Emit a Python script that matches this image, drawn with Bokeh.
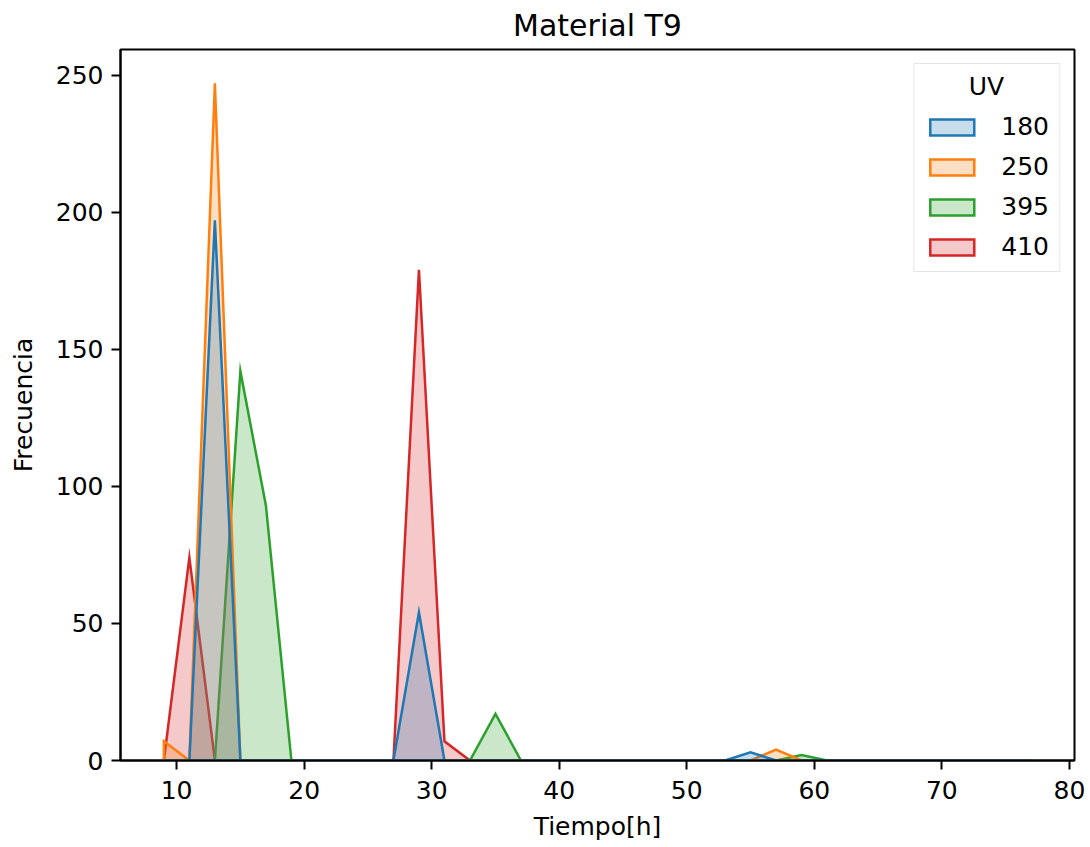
from bokeh.plotting import figure
from bokeh.models import Range1d, Legend, LegendItem, Label, FixedTicker
from bokeh.embed import file_html
from bokeh.resources import INLINE

# Bin centers (Tiempo[h]) and histogram counts per UV level
centers = [9, 11, 13, 15, 17, 19, 21, 23, 25, 27, 29, 31, 33, 35, 37, 39, 41, 43,
           45, 47, 49, 51, 53, 55, 57, 59, 61, 63, 65, 67, 69, 71, 73, 75, 77]
uv_180 = [0, 0, 197, 0, 0, 0, 0, 0, 0, 0, 54, 0, 0, 0, 0, 0, 0, 0,
          0, 0, 0, 0, 0, 3, 0, 0, 0, 0, 0, 0, 0, 0, 0, 0, 0]
uv_250 = [7, 0, 247, 0, 0, 0, 0, 0, 0, 0, 0, 0, 0, 0, 0, 0, 0, 0,
          0, 0, 0, 0, 0, 0, 4, 0, 0, 0, 0, 0, 0, 0, 0, 0, 0]
uv_395 = [0, 0, 0, 142, 93, 0, 0, 0, 0, 0, 0, 0, 0, 17, 0, 0, 0, 0,
          0, 0, 0, 0, 0, 0, 0, 2, 0, 0, 0, 0, 0, 0, 0, 0, 0]
uv_410 = [0, 74, 0, 0, 0, 0, 0, 0, 0, 0, 179, 7, 0, 0, 0, 0, 0, 0,
          0, 0, 0, 0, 0, 0, 0, 0, 0, 0, 0, 0, 0, 0, 0, 0, 0]
labels = ["180", "250", "395", "410"]
colors = ["#1f77b4", "#ff7f0e", "#2ca02c", "#d62728"]
series = [uv_180, uv_250, uv_395, uv_410]
x_ticks = [10, 20, 30, 40, 50, 60, 70, 80]
y_ticks = [0, 50, 100, 150, 200, 250]

FONT = "DejaVu Sans"

p = figure(width=1090, height=847, output_backend="svg", toolbar_location=None,
           title="Material T9",
           x_range=Range1d(5.6, 80.4), y_range=Range1d(0, 259.35),
           min_border_left=120, min_border_right=16, min_border_top=49,
           min_border_bottom=87)

p.title.align = "center"
p.title.vertical_align = "top"
p.title.text_font = FONT
p.title.text_font_size = "30px"
p.title.text_font_style = "normal"
p.title.text_color = "black"

p.xgrid.visible = False
p.ygrid.visible = False
p.outline_line_color = "black"
p.outline_line_width = 2
p.outline_line_alpha = 1

for ax in (p.xaxis[0], p.yaxis[0]):
    ax.axis_line_width = 2
    ax.major_tick_line_width = 2
    ax.major_tick_out = 9
    ax.major_tick_in = 0
    ax.minor_tick_out = 0
    ax.minor_tick_in = 0
    ax.major_label_text_font = FONT
    ax.major_label_text_font_size = "25px"
    ax.major_label_text_color = "black"
    ax.axis_label_text_font = FONT
    ax.axis_label_text_font_size = "25px"
    ax.axis_label_text_font_style = "normal"
    ax.axis_label_text_color = "black"

p.yaxis.major_label_standoff = 8
p.xaxis.major_label_standoff = 11
p.xaxis.ticker = FixedTicker(ticks=x_ticks)
p.yaxis.ticker = FixedTicker(ticks=y_ticks)
p.xaxis.axis_label = "Tiempo[h]"
p.yaxis.axis_label = "Frecuencia"
p.xaxis.axis_label_standoff = 10
p.yaxis.axis_label_standoff = 15

renderers = {}
# seaborn draws hue levels in reverse so the first level is on top
for lab, col, vals in reversed(list(zip(labels, colors, series))):
    xs = centers + [centers[-1], centers[0]]
    ys = vals + [0, 0]
    r = p.patch(xs, ys, fill_color=col, fill_alpha=0.25, line_color=col,
                line_width=2.5, line_join="miter")
    renderers[lab] = r

items = [LegendItem(label=lab, renderers=[renderers[lab]]) for lab in labels]
legend = Legend(items=items, location="top_right", title=" ",
                title_text_font=FONT, title_text_font_size="25px",
                title_standoff=9,
                label_text_font=FONT, label_text_font_size="25px",
                label_text_color="black",
                glyph_width=55, glyph_height=20, label_standoff=22,
                spacing=11, padding=10, margin=14,
                border_line_color="#cccccc", border_line_width=1.5,
                background_fill_alpha=0.0)
p.add_layout(legend)

uv_title = Label(x=866, y=674, x_units="screen", y_units="screen", text="UV",
                 text_align="center", text_baseline="middle",
                 text_font=FONT, text_font_size="25px", text_color="black")
p.add_layout(uv_title)

open("out.html", "w").write(file_html(p, INLINE))
